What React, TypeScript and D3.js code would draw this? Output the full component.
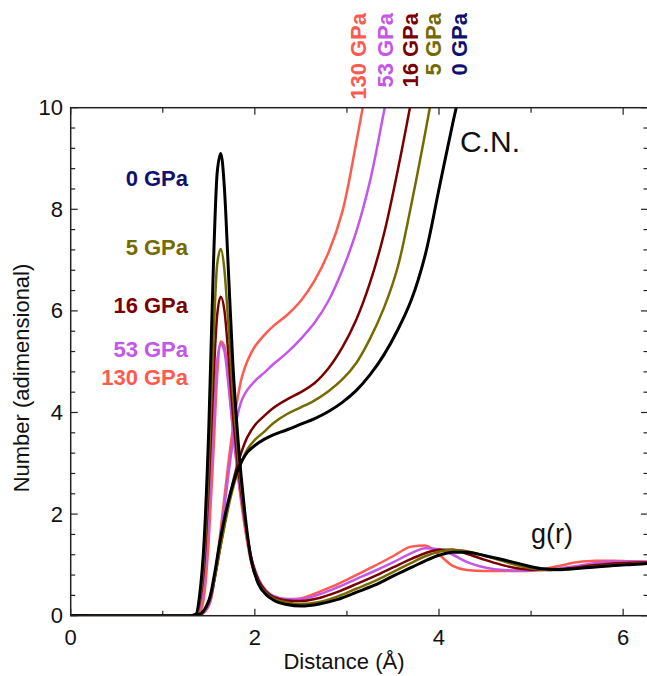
import React from 'react';
import * as d3 from 'd3';

// pressures and their colours
const PRESSURES = ['0 GPa', '5 GPa', '16 GPa', '53 GPa', '130 GPa'];
const LINE_COLORS = ['#000000', '#756a00', '#7a0000', '#c456e8', '#ff5a4e'];
const LABEL_COLORS = ['#10106e', '#756a00', '#7a0000', '#c456e8', '#ff5a4e'];

// g(r) grid (Å) and values
const R_G = [0, 1.3, 1.36, 1.4, 1.45, 1.5, 1.55, 1.59, 1.63, 1.67, 1.71, 1.76, 1.82, 1.89, 1.96, 2.04, 2.12, 2.2, 2.35, 2.5, 2.7, 2.9, 3.1, 3.3, 3.5, 3.7, 3.85, 4.0, 4.15, 4.3, 4.5, 4.7, 4.9, 5.1, 5.3, 5.5, 5.7, 5.9, 6.1, 6.3];
const G_0 = [0, 0, 0.03, 0.4, 1.5, 3.7, 6.9, 8.7, 9.1, 8.4, 6.9, 5.0, 3.4, 2.05, 1.1, 0.62, 0.42, 0.31, 0.22, 0.19, 0.23, 0.32, 0.46, 0.6, 0.78, 0.95, 1.08, 1.19, 1.25, 1.25, 1.18, 1.1, 1.01, 0.93, 0.91, 0.93, 0.96, 0.99, 1.01, 1.03];
const G_5 = [0, 0, 0.02, 0.3, 1.2, 3.0, 5.4, 6.9, 7.22, 6.8, 5.8, 4.4, 3.1, 1.95, 1.1, 0.64, 0.45, 0.34, 0.26, 0.23, 0.27, 0.38, 0.53, 0.68, 0.86, 1.04, 1.17, 1.26, 1.3, 1.27, 1.18, 1.07, 0.97, 0.91, 0.9, 0.93, 0.97, 1.0, 1.02, 1.04];
const G_16 = [0, 0, 0.01, 0.25, 1.0, 2.6, 4.6, 5.9, 6.28, 6.0, 5.2, 4.0, 2.9, 1.9, 1.15, 0.7, 0.48, 0.37, 0.3, 0.29, 0.35, 0.47, 0.62, 0.78, 0.95, 1.12, 1.23, 1.3, 1.3, 1.22, 1.1, 0.99, 0.92, 0.9, 0.91, 0.95, 1.0, 1.03, 1.04, 1.05];
const G_53 = [0, 0, 0, 0.15, 0.7, 2.0, 3.8, 5.0, 5.35, 5.2, 4.6, 3.7, 2.75, 1.85, 1.15, 0.72, 0.5, 0.39, 0.33, 0.33, 0.42, 0.56, 0.72, 0.88, 1.05, 1.23, 1.33, 1.31, 1.2, 1.06, 0.95, 0.9, 0.89, 0.9, 0.93, 0.98, 1.04, 1.06, 1.06, 1.06];
const G_130 = [0, 0, 0, 0.05, 0.4, 1.5, 3.2, 4.7, 5.4, 5.3, 4.7, 3.7, 2.7, 1.75, 1.05, 0.65, 0.45, 0.36, 0.31, 0.34, 0.47, 0.62, 0.8, 0.98, 1.17, 1.36, 1.38, 1.2, 0.98, 0.9, 0.88, 0.88, 0.88, 0.91, 0.98, 1.05, 1.08, 1.08, 1.07, 1.06];

// coordination number grid (Å) and values
const R_CN = [0, 1.35, 1.42, 1.5, 1.56, 1.62, 1.68, 1.74, 1.8, 1.86, 1.92, 2.0, 2.1, 2.2, 2.35, 2.5, 2.65, 2.8, 2.95, 3.1, 3.25, 3.4, 3.55, 3.7, 3.85, 4.0, 4.15, 4.3];
const CN_0 = [0, 0, 0.05, 0.3, 0.8, 1.45, 2.0, 2.45, 2.8, 3.05, 3.22, 3.35, 3.47, 3.56, 3.66, 3.77, 3.88, 4.02, 4.2, 4.43, 4.74, 5.13, 5.62, 6.22, 7.1, 8.4, 9.7, 10.9];
const CN_5 = [0, 0, 0.04, 0.28, 0.72, 1.3, 1.85, 2.35, 2.75, 3.05, 3.28, 3.46, 3.62, 3.79, 3.97, 4.1, 4.24, 4.42, 4.65, 4.97, 5.45, 6.05, 6.85, 8.1, 9.5, 11];
const CN_16 = [0, 0, 0.04, 0.26, 0.7, 1.3, 1.9, 2.45, 2.9, 3.25, 3.52, 3.75, 3.93, 4.09, 4.26, 4.4, 4.58, 4.87, 5.28, 5.82, 6.55, 7.5, 8.75, 10.15];
const CN_53 = [0, 0, 0.03, 0.2, 0.7, 1.45, 2.3, 3.15, 3.85, 4.25, 4.45, 4.62, 4.78, 4.95, 5.18, 5.45, 5.77, 6.2, 6.8, 7.55, 8.55, 9.9, 11.3];
const CN_130 = [0, 0, 0.02, 0.2, 0.7, 1.55, 2.5, 3.4, 4.15, 4.7, 5.02, 5.3, 5.52, 5.7, 5.92, 6.2, 6.6, 7.15, 7.95, 9.3, 10.8];

const G_SERIES = [G_0, G_5, G_16, G_53, G_130];
const CN_SERIES = [CN_0, CN_5, CN_16, CN_53, CN_130];

const X_MAJOR = [0, 2, 4, 6];
const X_MINOR = [1, 3, 5];

const W = 647;
const H = 676;
const FONT = '"Liberation Sans", Arial, Helvetica, sans-serif';

export default function App() {
  const x = d3.scaleLinear().domain([0, 6.27]).range([70.7, 648]);
  const y = d3.scaleLinear().domain([0, 10]).range([615.7, 107.7]);

  const yMajor = d3.range(0, 10.001, 2);
  const yMinor = d3.range(0.4, 10, 0.4).filter((v) => Math.abs(v / 2 - Math.round(v / 2)) > 1e-6);

  const gLine = d3
    .line<[number, number]>()
    .x((d) => x(d[0]))
    .y((d) => y(d[1]))
    .curve(d3.curveMonotoneX);

  // running integral is smooth, catmull-rom rounds off the knees
  const cnLine = d3
    .line<[number, number]>()
    .x((d) => x(d[0]))
    .y((d) => y(d[1]))
    .curve(d3.curveCatmullRom.alpha(0.5));

  const [x0, x1] = x.range();
  const [yb, yt] = y.range();

  // draw black last so it sits on top
  const order = [4, 3, 2, 1, 0];

  const leftLabelY = [186, 255, 313, 357, 385];
  const topLabelX = [467, 441, 418, 393, 366];

  return (
    <svg width={W} height={H} style={{ position: 'absolute', left: 0, top: 0, background: '#fff' }} fontFamily={FONT}>
      <defs>
        <clipPath id="plot">
          <rect x={x0} y={yt} width={x1 - x0} height={yb - yt} />
        </clipPath>
      </defs>

      <g clipPath="url(#plot)" fill="none" strokeLinejoin="round">
        {order.map((i) => (
          <g key={i} stroke={LINE_COLORS[i]} strokeWidth={i === 0 ? 3 : 2.5}>
            <path d={cnLine(CN_SERIES[i].map((v, k) => [R_CN[k], v] as [number, number])) || ''} />
            <path d={gLine(G_SERIES[i].map((v, k) => [R_G[k], v] as [number, number])) || ''} />
          </g>
        ))}
      </g>

      {/* frame */}
      <rect x={x0} y={yt} width={x1 - x0} height={yb - yt} fill="none" stroke="#222" strokeWidth={1.5} />

      {/* ticks on all four sides, pointing inward */}
      <g stroke="#222" strokeWidth={1.2}>
        {X_MAJOR.concat(X_MINOR).map((v) => {
          const len = X_MAJOR.includes(v) ? 7 : 5;
          return (
            <g key={'x' + v}>
              <line x1={x(v)} x2={x(v)} y1={yb} y2={yb - len} />
              <line x1={x(v)} x2={x(v)} y1={yt} y2={yt + len} />
            </g>
          );
        })}
        {yMajor.concat(yMinor).map((v) => {
          const len = yMajor.includes(v) ? 7 : 4.5;
          return (
            <g key={'y' + v}>
              <line x1={x0} x2={x0 + len} y1={y(v)} y2={y(v)} />
              <line x1={x1} x2={x1 - len} y1={y(v)} y2={y(v)} />
            </g>
          );
        })}
      </g>

      {/* tick labels */}
      <g fontSize={22} fill="#111">
        {X_MAJOR.map((v) => (
          <text key={'xl' + v} x={x(v)} y={645} textAnchor="middle">
            {v}
          </text>
        ))}
        {yMajor.map((v) => (
          <text key={'yl' + v} x={63} y={y(v)} textAnchor="end" dominantBaseline="central">
            {v}
          </text>
        ))}
      </g>

      {/* axis titles */}
      <text x={344} y={669} fontSize={22} textAnchor="middle" fill="#111">
        Distance (Å)
      </text>
      <text transform="translate(29,378) rotate(-90)" fontSize={22} textAnchor="middle" fill="#111">
        Number (adimensional)
      </text>

      {/* curve labels */}
      <text x={460} y={152} fontSize={30} fill="#111">
        C.N.
      </text>
      <text x={531} y={543} fontSize={27} fill="#111">
        g(r)
      </text>

      {/* pressure labels, left */}
      <g fontSize={22} fontWeight="bold" textAnchor="end">
        {PRESSURES.map((p, i) => (
          <text key={'l' + p} x={188} y={leftLabelY[i]} fill={LABEL_COLORS[i]}>
            {p}
          </text>
        ))}
      </g>

      {/* pressure labels, top (rotated) */}
      <g fontSize={22} fontWeight="bold" textAnchor="end">
        {PRESSURES.map((p, i) => (
          <text key={'t' + p} transform={`translate(${topLabelX[i]},13) rotate(-90)`} fill={LABEL_COLORS[i]}>
            {p}
          </text>
        ))}
      </g>
    </svg>
  );
}
